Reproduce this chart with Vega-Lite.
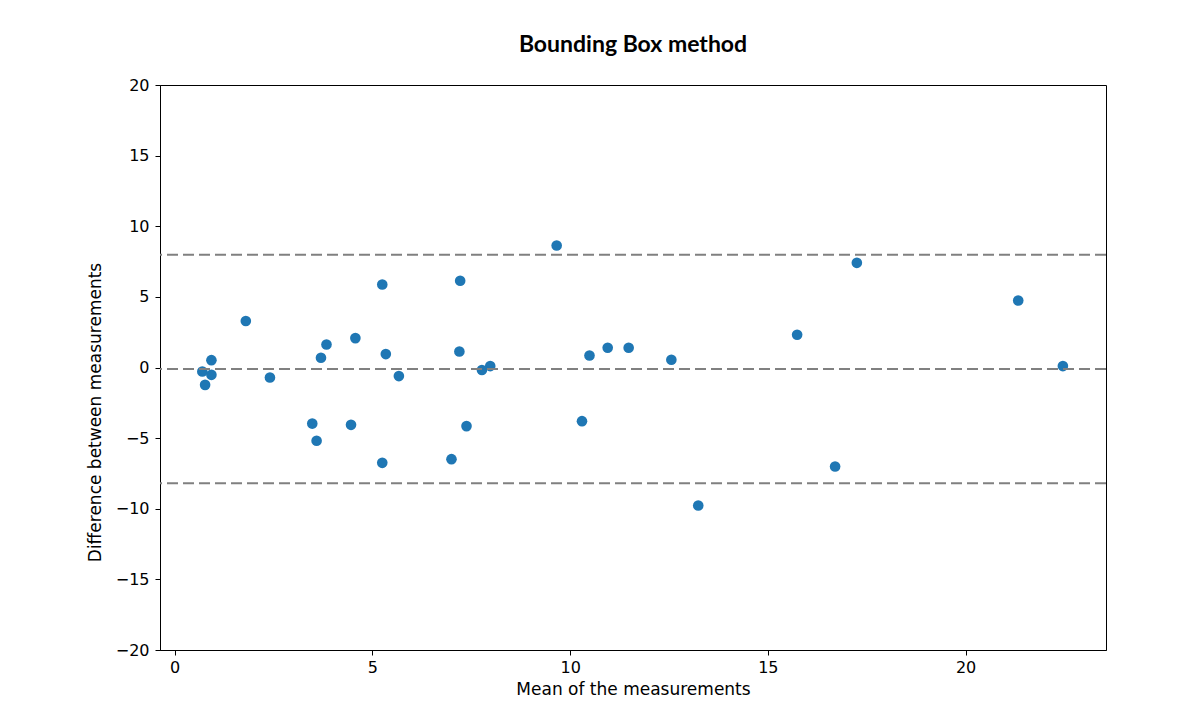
{
  "$schema": "https://vega.github.io/schema/vega-lite/v6.json",
  "width": 946,
  "height": 565,
  "autosize": {"type": "none"},
  "padding": {"left": 160, "top": 85, "right": 73, "bottom": 61},
  "background": "white",
  "title": {
    "text": "Bounding Box method",
    "font": "Lato",
    "fontWeight": 700,
    "fontSize": 23,
    "color": "#000000",
    "anchor": "middle",
    "offset": 20
  },
  "config": {
    "view": {"stroke": "#000000", "strokeWidth": 1},
    "axis": {
      "grid": false,
      "domainColor": "#000000",
      "domainWidth": 1,
      "tickColor": "#000000",
      "tickSize": 5,
      "tickWidth": 1,
      "labelFont": "DejaVu Sans",
      "labelFontSize": 16,
      "labelColor": "#000000",
      "titleFont": "DejaVu Sans",
      "titleFontSize": 17,
      "titleFontWeight": "normal",
      "titleColor": "#000000"
    }
  },
  "datasets": {
    "points": [
      {"mean": 0.70, "diff": -0.28},
      {"mean": 0.77, "diff": -1.23},
      {"mean": 0.93, "diff": 0.52},
      {"mean": 0.93, "diff": -0.52},
      {"mean": 1.80, "diff": 3.29},
      {"mean": 2.41, "diff": -0.71},
      {"mean": 3.48, "diff": -3.97},
      {"mean": 3.59, "diff": -5.19},
      {"mean": 3.70, "diff": 0.69},
      {"mean": 3.84, "diff": 1.63},
      {"mean": 4.46, "diff": -4.06},
      {"mean": 4.57, "diff": 2.08},
      {"mean": 5.25, "diff": 5.88},
      {"mean": 5.25, "diff": -6.75},
      {"mean": 5.34, "diff": 0.95},
      {"mean": 5.67, "diff": -0.61},
      {"mean": 7.00, "diff": -6.49},
      {"mean": 7.22, "diff": 6.14},
      {"mean": 7.20, "diff": 1.13},
      {"mean": 7.38, "diff": -4.15},
      {"mean": 7.77, "diff": -0.18},
      {"mean": 7.98, "diff": 0.10},
      {"mean": 9.66, "diff": 8.64},
      {"mean": 10.30, "diff": -3.80},
      {"mean": 10.49, "diff": 0.85},
      {"mean": 10.95, "diff": 1.40},
      {"mean": 11.48, "diff": 1.40},
      {"mean": 12.56, "diff": 0.55},
      {"mean": 13.24, "diff": -9.77},
      {"mean": 15.74, "diff": 2.32},
      {"mean": 16.70, "diff": -7.01},
      {"mean": 17.25, "diff": 7.41},
      {"mean": 21.33, "diff": 4.74},
      {"mean": 22.46, "diff": 0.10}
    ],
    "limits": [
      {"line": "upper", "value": 7.98},
      {"line": "mean", "value": -0.11},
      {"line": "lower", "value": -8.19}
    ]
  },
  "layer": [
    {
      "data": {"name": "points"},
      "mark": {"type": "circle", "size": 113, "color": "#1f77b4", "opacity": 1},
      "encoding": {
        "x": {
          "field": "mean",
          "type": "quantitative",
          "scale": {"domain": [-0.37, 23.55], "nice": false, "zero": false},
          "axis": {
            "values": [0, 5, 10, 15, 20],
            "title": "Mean of the measurements",
            "labelPadding": 4,
            "titlePadding": 6
          }
        },
        "y": {
          "field": "diff",
          "type": "quantitative",
          "scale": {"domain": [-20, 20], "nice": false, "zero": false},
          "axis": {
            "values": [-20, -15, -10, -5, 0, 5, 10, 15, 20],
            "title": "Difference between measurements",
            "labelPadding": 6,
            "titleY": 327,
            "titleX": -65,
            "titleAngle": -90,
            "titleAlign": "center",
            "titleBaseline": "middle"
          }
        }
      }
    },
    {
      "data": {"name": "limits"},
      "mark": {"type": "rule", "color": "#808080", "strokeWidth": 2, "strokeDash": [11, 5]},
      "encoding": {
        "y": {"field": "value", "type": "quantitative"}
      }
    }
  ]
}
